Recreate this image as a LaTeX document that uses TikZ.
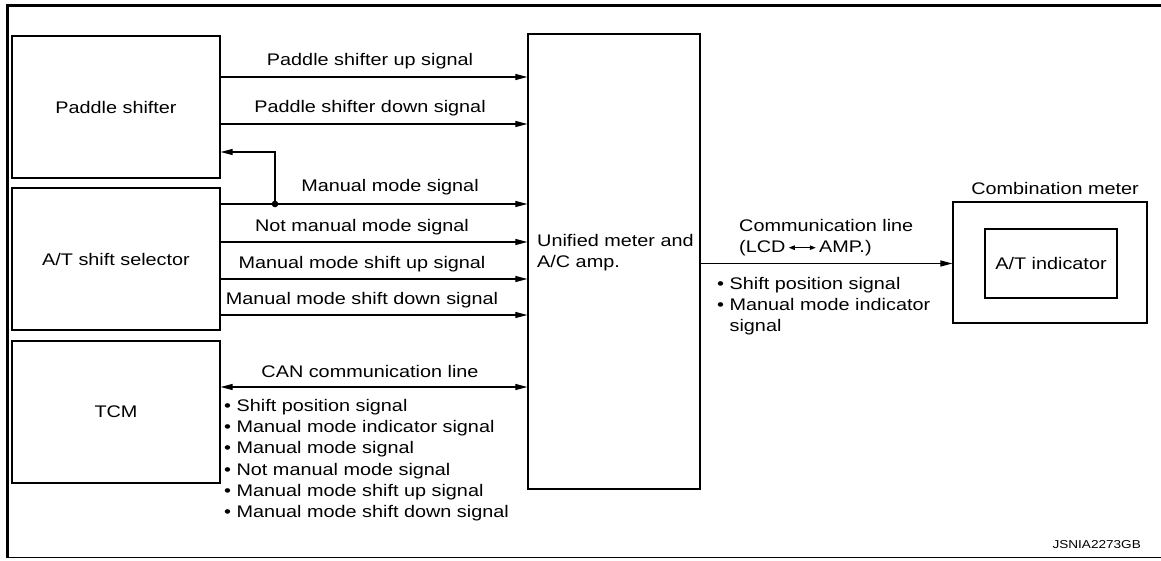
\documentclass[tikz,border=0pt]{standalone}
\usepackage{fontspec}
\setmainfont{Liberation Sans}[FakeStretch=1.18]
\usetikzlibrary{arrows.meta}
\begin{document}
\begin{tikzpicture}[x=1pt,y=-1pt,
  font=\fontsize{16.8}{21.3}\selectfont,
  unit/.style={draw, line width=1.3pt, inner sep=0pt},
  ecu/.style={unit, minimum width=208pt, minimum height=142pt},
  tip/.style={Triangle[length=12pt,width=6pt]},
  sig/.style={line width=1.2pt, -{Triangle[length=12pt,width=6pt]}},
  both/.style={line width=1.2pt, {Triangle[length=12pt,width=6pt]}-{Triangle[length=12pt,width=6pt]}},
  lbl/.style={inner sep=0pt},
  list/.style={inner sep=0pt, align=left}
]
\useasboundingbox (0,0) rectangle (1161,561);

% outer frame (open on the right)
\draw[line width=3pt] (1161,5.5) -- (7.5,5.5) -- (7.5,558);
\draw[line width=1.5pt] (6,557.5) -- (1161,557.5);

% control units
\node[ecu] (paddle)   at (116,107) {Paddle shifter};
\node[ecu] (selector) at (116,259) {A/T shift selector};
\node[ecu] (tcm)      at (116,412) {TCM};
\node[unit, minimum width=172pt, minimum height=455pt] (unified) at (614,261.5) {};
\node[list, anchor=west] (unitext) at (537,253) {Unified meter and\\A/C amp.};

\node[unit, minimum width=194pt, minimum height=121pt] (comb) at (1050,262.5) {};
\node[unit, minimum width=132pt, minimum height=69pt] (atind) at (1051,263.5) {A/T indicator};
\node[lbl] (combtitle) at (1055,188) {Combination meter};

% signal rows
\coordinate (rup)   at (0,77);
\coordinate (rdown) at (0,124);
\coordinate (rfb)   at (0,152);
\coordinate (j)     at (275,204);
\coordinate (rnot)  at (0,242);
\coordinate (rsu)   at (0,279);
\coordinate (rsd)   at (0,315);
\coordinate (rcan)  at (0,387);

\draw[sig] (paddle.east |- rup) -- (unified.west |- rup);
\node[lbl] (lup) at (370,61) {Paddle shifter up signal};
\draw[sig] (paddle.east |- rdown) -- (unified.west |- rdown);
\node[lbl] (ldown) at (370,108) {Paddle shifter down signal};

\draw[sig] (selector.east |- j) -- (unified.west |- j);
\draw[sig] (j) |- (paddle.east |- rfb);
\fill (j) circle (3.3pt);
\node[lbl] (lman) at (390,187) {Manual mode signal};

\draw[sig] (selector.east |- rnot) -- (unified.west |- rnot);
\node[lbl] (lnot) at (362,227) {Not manual mode signal};
\draw[sig] (selector.east |- rsu) -- (unified.west |- rsu);
\node[lbl] (lsu) at (362,264) {Manual mode shift up signal};
\draw[sig] (selector.east |- rsd) -- (unified.west |- rsd);
\node[lbl] (lsd) at (362,300) {Manual mode shift down signal};

\draw[both] (tcm.east |- rcan) -- (unified.west |- rcan);
\node[lbl] (lcan) at (370,371) {CAN communication line};
\node[list, anchor=north west] (canlist) at (224,399) {%
  • Shift position signal\\
  • Manual mode indicator signal\\
  • Manual mode signal\\
  • Not manual mode signal\\
  • Manual mode shift up signal\\
  • Manual mode shift down signal};

% meter communication
\draw[sig] (unified.east |- atind) -- (comb.west |- atind);
\node[list, anchor=west] (lcomm) at (739,238) {Communication line\\
  (LCD\,\tikz[baseline=-0.6ex]\draw[line width=1pt,{Triangle[length=6pt,width=4.5pt]}-{Triangle[length=6pt,width=4.5pt]}] (0pt,0pt) -- (27pt,0pt);\,AMP.)};
\node[list, anchor=north west] (commlist) at (717,277) {%
  • Shift position signal\\
  • Manual mode indicator\\
  \hphantom{•\ }signal};

\node[lbl, anchor=east, font=\fontsize{11.5}{13}\selectfont] (code) at (1141,545) {JSNIA2273GB};
\end{tikzpicture}
\end{document}
